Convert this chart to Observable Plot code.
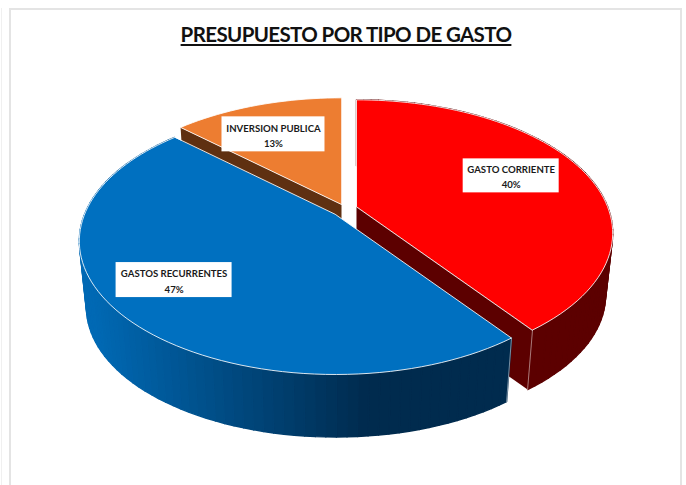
<!DOCTYPE html>
<html lang="es">
<head>
<meta charset="utf-8">
<script src="https://cdn.jsdelivr.net/npm/d3@7"></script>
<script src="https://cdn.jsdelivr.net/npm/@observablehq/plot@0.6"></script>
<style>
  html, body { margin: 0; padding: 0; background: #fff; }
  #page { position: relative; width: 686px; height: 485px; overflow: hidden; }
  #frame { position: absolute; left: 9px; top: 8px; width: 669px; height: 490px;
           border: 2px solid #e4e4e4; box-sizing: content-box; }
  #edge { position: absolute; left: 1px; top: 8px; width: 1px; height: 477px; background: #f0f0f0; }
  h1 { position: absolute; left: 0; top: 20px; width: 692px; margin: 0; text-align: center;
       font: 700 20.5px Lato, sans-serif; line-height: 28px; color: #111; letter-spacing: -0.62px; }
  h1 span { text-decoration: underline; text-decoration-thickness: 2px; text-underline-offset: 2px; }
  #chart { position: absolute; left: 0; top: 60px; }
  svg { display: block; }
</style>
</head>
<body>
<div id="page">
  <div id="edge"></div>
  <div id="frame"></div>
  <h1><span>PRESUPUESTO POR TIPO DE GASTO</span></h1>
  <div id="chart"></div>
</div>
<script>
// Data
const categories = ["GASTO CORRIENTE", "GASTOS RECURRENTES", "INVERSION PUBLICA"];
const shares = [40, 47, 13];

// Styles per slice
const topColors = ["#ff0000", "#0070c0", "#ed7d31"];
const wallColors = ["#5c0000", null, "#5f3011"];

// Perspective layout of the disc
const radiusX = 251, radiusY = 128, perspective = 0.2;
const wallDrops = [63, 67, 67], wallShrink = 0.972;
const apexes = [[356, 206], [335, 214], [341, 204]];
const labelRadius = [0.675, 0.77, 0.78];
const labelLift = [-5, -7, 10];
const labelHalfSize = [[48, 17], [58, 17.5], [51.5, 17.5]];

const project = (i, angle, r = 1, lower = false) => {
  const apex = apexes[i];
  const f = 1 / (1 + perspective * r * Math.cos(angle));
  const dx = radiusX * r * Math.sin(angle) * f;
  const dy = -radiusY * r * Math.cos(angle) * f;
  const s = lower ? wallShrink : 1;
  return {x: apex[0] + dx * s, y: apex[1] + dy * s + (lower ? wallDrops[i] : 0)};
};

const arcs = d3.pie().sort(null).startAngle(0).endAngle(2 * Math.PI)(shares);
const STEP = Math.PI / 180 * 2;

const sweep = (a, b) => {
  const n = Math.max(1, Math.ceil((b - a) / STEP));
  return d3.range(n + 1).map(k => a + (b - a) * k / n);
};

const marks = [];

// Walls are drawn back to front: red, orange, blue.
[0, 2, 1].forEach(i => {
  const arc = arcs[i];
  const angles = sweep(arc.startAngle, arc.endAngle);
  const cutAngle = i === 0 ? arc.endAngle : arc.startAngle;

  // Cut face that is turned to the viewer
  if (wallColors[i]) {
    marks.push(Plot.line([
      project(i, cutAngle, 0),
      project(i, cutAngle, 1),
      project(i, cutAngle, 1, true),
      project(i, cutAngle, 0, true)
    ], {x: "x", y: "y", fill: wallColors[i], stroke: "none"}));
  }

  // Outer rim of the front slices, one quad per step so the blue one can carry its shading
  if (i !== 2) {
    const quads = [];
    angles.slice(1).forEach((b, k) => {
      const a = angles[k];
      const p = project(i, (a + b) / 2);
      [project(i, a), project(i, b), project(i, b, 1, true), project(i, a, 1, true)]
        .forEach(q => quads.push({...q, quad: k, shade: p.x}));
    });
    const paint = wallColors[i] || "shade";
    marks.push(Plot.line(quads, {x: "x", y: "y", z: "quad", fill: paint, stroke: paint, strokeWidth: 1.4, curve: "linear-closed"}));

    // Pale seam down the front corner of the rim
    marks.push(Plot.line([project(i, cutAngle), project(i, cutAngle, 1, true)],
      {x: "x", y: "y", stroke: "#fff", strokeOpacity: 0.6, strokeWidth: 0.8}));
  }

  // Top face
  const face = [project(i, 0, 0), ...angles.map(t => project(i, t))];
  marks.push(Plot.line(face, {x: "x", y: "y", fill: topColors[i], stroke: "#fff", strokeWidth: 1, strokeOpacity: 0.85, curve: "linear-closed"}));
});

// Labels
const labels = arcs.map((arc, i) => {
  const mid = (arc.startAngle + arc.endAngle) / 2;
  const c = project(i, mid, labelRadius[i]);
  const cy = c.y + labelLift[i];
  return {
    cx: c.x, cy,
    x1: c.x - labelHalfSize[i][0], x2: c.x + labelHalfSize[i][0],
    y1: cy - labelHalfSize[i][1], y2: cy + labelHalfSize[i][1],
    text: `${categories[i]}\n${shares[i]}%`
  };
});
marks.push(Plot.rect(labels, {x1: "x1", x2: "x2", y1: "y1", y2: "y2", fill: "#fff"}));
marks.push(Plot.text(labels, {
  x: "cx", y: "cy", text: "text", lineHeight: 1.6, fill: "#1a1a1a",
  fontFamily: "Lato, sans-serif", fontWeight: 700, fontSize: 9.6
}));

const chart = Plot.plot({
  width: 686, height: 425,
  marginTop: 0, marginRight: 0, marginBottom: 0, marginLeft: 0,
  x: {domain: [0, 686], range: [0, 686], axis: null},
  y: {domain: [60, 485], range: [0, 425], axis: null},
  color: {type: "linear", domain: [90, 365], range: ["#0069b4", "#002b4e"], clamp: true},
  style: {background: "transparent", overflow: "visible"},
  marks
});
document.getElementById("chart").appendChild(chart);
</script>
</body>
</html>
